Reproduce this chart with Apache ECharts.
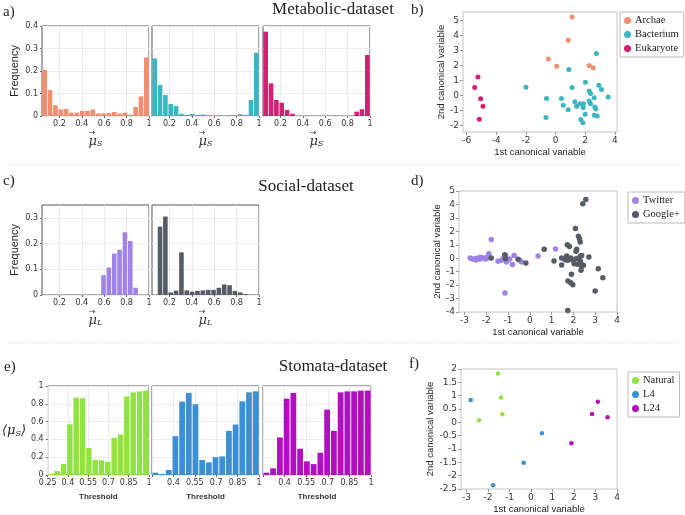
<!DOCTYPE html>
<html>
<head>
<meta charset="utf-8">
<script src="https://cdn.jsdelivr.net/npm/echarts@6/dist/echarts.min.js"></script>
<style>
  html, body { margin: 0; padding: 0; background: #fff; }
  #chart { width: 685px; height: 515px; }
</style>
</head>
<body>
<div id="chart"></div>
<script>
// ---- data ----
// histogram bins (hidden category axis, centres of the bins)
const muBins = ['0.069', '0.117', '0.164', '0.212', '0.260', '0.308', '0.355', '0.403', '0.451', '0.499',
  '0.546', '0.594', '0.642', '0.690', '0.737', '0.785', '0.833', '0.881', '0.928', '0.976']
const thresholdBins = ['0.273', '0.320', '0.367', '0.414', '0.461', '0.508', '0.555', '0.602',
  '0.648', '0.695', '0.742', '0.789', '0.836', '0.883', '0.930', '0.977']

// a) metabolic histograms
const archaeFreq = [0.205, 0.115, 0.048, 0.029, 0.031, 0.015, 0.015, 0.023, 0.023, 0.029,
  0.011, 0.012, 0.013, 0.018, 0.011, 0.015, 0.006, 0.04, 0.087, 0.26]
const bacteriumFreq = [0.256, 0.138, 0.093, 0.053, 0.044, 0.01, 0.003, 0.009, 0.004, 0.007,
  0.004, 0.002, 0.002, 0.001, 0.002, 0.004, 0.008, 0.005, 0.071, 0.281]
const eukaryoteFreq = [0.375, 0.145, 0.071, 0.059, 0.027, 0.01, 0, 0, 0, 0,
  0, 0, 0, 0, 0, 0, 0, 0.019, 0.03, 0.271]

// c) social histograms
const twitterFreq = [0, 0, 0, 0, 0, 0, 0, 0, 0, 0,
  0, 0.077, 0.107, 0.161, 0.176, 0.244, 0.21, 0.028, 0, 0]
const googleFreq = [0, 0.266, 0.305, 0.01, 0.017, 0.166, 0.018, 0.013, 0.016, 0.018,
  0.02, 0.02, 0.028, 0.041, 0.038, 0.016, 0.01, 0.004, 0, 0]

// e) stomata histograms
const naturalMu = [0.011, 0.045, 0.123, 0.571, 0.869, 0.862, 0.302, 0.168, 0.164, 0.149, 0.418, 0.455, 0.881, 0.929, 0.94, 0.948]
const l4Mu = [0.026, 0.011, 0.056, 0.437, 0.825, 0.922, 0.795, 0.168, 0.142, 0.2, 0.209, 0.496, 0.567, 0.828, 0.929, 0.94]
const l24Mu = [0.026, 0.075, 0.422, 0.858, 0.922, 0.295, 0.153, 0.123, 0.25, 0.735, 0.496, 0.929, 0.94, 0.94, 0.948, 0.948]

// b) metabolic canonical variables
const archaeX = [1.12, 0.85, -0.49, 0.07, 2.27, 2.54]
const archaeY = [5.22, 3.67, 2.42, 1.93, 1.98, 1.84]
const bacteriumX = [2.76, 0.9, -2.0, 2.02, 2.92, 1.12, 2.27, 2.36, 3.1, 3.55, -0.61, 0.4, 2.61, 1.3, 1.64,
  1.89, 2.27, 2.36, 0.52, 1.42, 1.87, 2.65, 2.72, 0.85, 2.0, 2.61, 2.81, -0.65, 1.71, 1.84]
const bacteriumY = [2.78, 1.71, 0.53, 0.87, 0.67, 0.51, 0.29, 0.11, 0.38, -0.11, -0.22, -0.22, -0.16, -0.44, -0.56,
  -0.56, -0.38, -0.56, -0.67, -0.73, -0.82, -0.78, -0.91, -0.96, -1.27, -1.33, -1.38, -1.49, -1.62, -1.84]
const eukaryoteX = [-5.24, -5.46, -5.06, -4.9, -5.15]
const eukaryoteY = [1.22, 0.51, -0.24, -0.73, -1.6]

// d) social canonical variables
const twitterX = [-1.77, -2.74, -2.62, -2.46, -2.31, -2.15, -2.03, -1.97, -1.88, -1.92, -2.28, -2.49, -1.46,
  -1.31, -1.2, -1.11, -0.98, -1.08, -0.92, -0.8, -0.72, -0.46, -0.38, -1.14, 0.38, 1.18]
const twitterY = [1.4, 0.02, -0.06, -0.01, -0.08, 0.02, -0.06, 0.07, 0.34, 0.02, 0.07, -0.13, -0.23,
  -0.16, 0.04, 0.21, -0.11, -0.28, -0.06, -0.46, 0.21, -0.16, -0.28, -2.59, 0.16, 0.69]
const googleX = [-1.77, -1.15, -1.11, -0.54, -0.18, 0.66, 1.11, 1.46, 1.46, 1.62, 1.72, 1.82, 1.69, 1.74, 1.88,
  1.97, 1.91, 1.75, 1.88, 1.97, 1.74, 2.09, 2.12, 2.15, 2.12, 2.18, 2.23, 2.28, 2.31, 2.31, 2.38, 2.34,
  2.38, 2.35, 2.46, 2.43, 2.57, 2.71, 3.0, 3.14, 3.35, 2.32, 2.03]
const googleY = [0.02, 0.26, -0.03, -0.08, -0.36, 0.66, -0.21, -0.5, 0.02, -0.11, 1.01, 0.88, 0.16, -0.16, 0.02,
  -0.16, -1.2, -1.69, -1.82, -1.97, -3.88, 2.22, 0.51, 0.66, -0.03, -0.45, 1.63, 1.45, 1.21, 0.14, 0.21, -0.41,
  -0.61, -0.9, -0.53, 4.06, 4.36, 0.09, -2.44, -0.79, -1.45, -0.2, -0.41]

// f) stomata canonical variables
const naturalX = [-1.53, -1.39, -1.33, -2.41]
const naturalY = [1.83, 0.93, 0.3, 0.08]
const l4X = [-2.8, 0.51, -0.34, -1.76]
const l4Y = [0.84, -0.41, -1.52, -2.36]
const l24X = [3.11, 2.84, 3.56, 1.88]
const l24Y = [0.77, 0.31, 0.19, -0.78]

// tick values
const muTicks = [0.2, 0.4, 0.6, 0.8, 1]
const thresholdTicks = [0.25, 0.4, 0.55, 0.7, 0.85, 1]
const thresholdTicksInner = [0.4, 0.55, 0.7, 0.85, 1]
const freqTicksA = [0, 0.1, 0.2, 0.3, 0.4]
const freqTicksC = [0, 0.1, 0.2, 0.3]
const muTicksE = [0, 0.2, 0.4, 0.6, 0.8, 1]

// colours
const colors = {
  Archae: '#f28d6f', Bacterium: '#3db4c2', Eukaryote: '#d81d72',
  Twitter: '#a083e4', 'Google+': '#565c66',
  Natural: '#8fe23f', L4: '#3b8fd4', L24: '#b30fc0'
}

// ---- layout helpers ----
const grids = []
const xAxes = []
const yAxes = []
const series = []

const tickFont = { fontSize: 8, color: '#333', fontFamily: 'DejaVu Sans' }
const axisNameFont = { fontSize: 9.5, color: '#222', fontFamily: '"Liberation Sans", sans-serif' }
// vector mu with subscript: arrow on its own line above the mu
const muName = (sub) => ({
  text: '{ar|→}\n{m|μ}{s|' + sub + '}',
  style: {
    rich: {
      ar: { fontSize: 8, fontFamily: 'DejaVu Sans', color: '#333', lineHeight: 5, padding: [0, 7, 0, 0] },
      m: { fontSize: 13, fontStyle: 'italic', fontFamily: 'DejaVu Serif', color: '#333', lineHeight: 12 },
      s: { fontSize: 8, fontStyle: 'italic', fontFamily: 'DejaVu Serif', color: '#333', lineHeight: 12, padding: [6, 0, 0, 0] }
    }
  }
})

function histPanel(box, bins, values, opt) {
  const g = grids.length
  grids.push({ left: box[0], top: box[1], width: box[2], height: box[3], show: true, borderColor: '#555', borderWidth: 1 })
  xAxes.push({
    gridIndex: g, type: 'value', min: opt.xMin, max: 1,
    axisLine: { show: false, onZero: false },
    axisTick: { show: true, length: 2, customValues: opt.xTicks, lineStyle: { color: '#666' } },
    axisLabel: Object.assign({ customValues: opt.xLabels, margin: 4 }, tickFont),
    splitLine: { show: true, lineStyle: { color: '#ececec' } },
    name: opt.xName ? opt.xName.text : '',
    nameLocation: 'middle', nameGap: opt.xNameGap,
    nameTextStyle: opt.xName ? opt.xName.style : {}
  })
  xAxes.push({ gridIndex: g, type: 'category', data: bins, show: false })
  const xi = xAxes.length - 1
  yAxes.push({
    gridIndex: g, type: 'value', min: 0, max: opt.yMax,
    axisLine: { show: false, onZero: false },
    axisTick: { show: !!opt.yLabels, length: 2, customValues: opt.yTicks, lineStyle: { color: '#666' } },
    axisLabel: Object.assign({ show: !!opt.yLabels, customValues: opt.yTicks, margin: 4 }, tickFont),
    splitLine: { show: true, lineStyle: { color: '#ececec' } },
    name: opt.yName ? opt.yName.text : '',
    nameLocation: 'middle', nameGap: opt.yNameGap, nameRotate: opt.yNameRotate,
    nameTextStyle: opt.yName ? opt.yName.style : {}
  })
  series.push({
    type: 'bar', name: opt.name, xAxisIndex: xi, yAxisIndex: yAxes.length - 1,
    data: values, barCategoryGap: '14%', itemStyle: { color: colors[opt.name] }
  })
}

function scatterPanel(box, opt, groups) {
  const g = grids.length
  grids.push({ left: box[0], top: box[1], width: box[2], height: box[3], show: true, borderColor: '#c4c4c4', borderWidth: 1 })
  const scatterTick = { fontSize: 9, color: '#333', fontFamily: 'DejaVu Sans', margin: 4 }
  xAxes.push({
    gridIndex: g, type: 'value', min: opt.xMin, max: opt.xMax,
    axisLine: { show: false, onZero: false },
    axisTick: { show: true, length: 3, customValues: opt.xTicks, lineStyle: { color: '#999' } },
    axisLabel: Object.assign({ customValues: opt.xTicks }, scatterTick),
    splitLine: { show: false },
    name: '1st canonical variable', nameLocation: 'middle', nameGap: 15, nameTextStyle: axisNameFont
  })
  yAxes.push({
    gridIndex: g, type: 'value', min: opt.yMin, max: opt.yMax,
    axisLine: { show: false, onZero: false },
    axisTick: { show: true, length: 3, customValues: opt.yTicks, lineStyle: { color: '#999' } },
    axisLabel: Object.assign({ customValues: opt.yTicks }, scatterTick),
    splitLine: { show: false },
    name: '2nd canonical variable', nameLocation: 'middle', nameGap: opt.yNameGap, nameTextStyle: axisNameFont
  })
  groups.forEach(gr => {
    series.push({
      type: 'scatter', name: gr.name, xAxisIndex: xAxes.length - 1, yAxisIndex: yAxes.length - 1,
      data: gr.x.map((v, i) => [v, gr.y[i]]),
      symbolSize: opt.size, itemStyle: { color: colors[gr.name], opacity: 1 }
    })
  })
}

// ---- a) ----
const freqName = { text: 'Frequency', style: { fontSize: 11, color: '#222', fontFamily: '"Liberation Sans", sans-serif' } }
histPanel([42, 26, 107, 90], muBins, archaeFreq, {
  name: 'Archae', xMin: 0.045, xTicks: muTicks, xLabels: muTicks, xName: muName('S'), xNameGap: 12,
  yMax: 0.4, yTicks: freqTicksA, yLabels: true, yName: freqName, yNameGap: 22
})
histPanel([152, 26, 107, 90], muBins, bacteriumFreq, {
  name: 'Bacterium', xMin: 0.045, xTicks: muTicks, xLabels: muTicks, xName: muName('S'), xNameGap: 12,
  yMax: 0.4, yTicks: freqTicksA
})
histPanel([263, 26, 107, 90], muBins, eukaryoteFreq, {
  name: 'Eukaryote', xMin: 0.045, xTicks: muTicks, xLabels: muTicks, xName: muName('S'), xNameGap: 12,
  yMax: 0.4, yTicks: freqTicksA
})

// ---- c) ----
histPanel([42, 205, 107, 90], muBins, twitterFreq, {
  name: 'Twitter', xMin: 0.045, xTicks: muTicks, xLabels: muTicks, xName: muName('L'), xNameGap: 12,
  yMax: 0.35, yTicks: freqTicksC, yLabels: true, yName: freqName, yNameGap: 22
})
histPanel([152, 205, 107, 90], muBins, googleFreq, {
  name: 'Google+', xMin: 0.045, xTicks: muTicks, xLabels: muTicks, xName: muName('L'), xNameGap: 12,
  yMax: 0.35, yTicks: freqTicksC
})

// ---- e) ----
const thrName = { text: 'Threshold', style: { fontSize: 8, fontWeight: 'bold', color: '#333', fontFamily: '"Liberation Sans", sans-serif' } }
const avgName = {
  text: '{a|⟨μ}{s|S}{a|⟩}',
  style: {
    rich: {
      a: { fontSize: 13, fontFamily: 'DejaVu Serif', fontStyle: 'italic', color: '#222' },
      s: { fontSize: 8, fontFamily: 'DejaVu Serif', fontStyle: 'italic', color: '#222', padding: [7, 0, 0, 0] }
    }
  }
}
histPanel([42, 386, 107, 89], thresholdBins, naturalMu, {
  name: 'Natural', xMin: 0.25, xTicks: thresholdTicks, xLabels: thresholdTicks, xName: thrName, xNameGap: 18,
  yMax: 1, yTicks: muTicksE, yLabels: true, yName: avgName, yNameGap: 21, yNameRotate: 0
})
histPanel([152, 386, 107, 89], thresholdBins, l4Mu, {
  name: 'L4', xMin: 0.25, xTicks: thresholdTicks, xLabels: thresholdTicksInner, xName: thrName, xNameGap: 18,
  yMax: 1, yTicks: muTicksE
})
histPanel([263, 386, 108, 89], thresholdBins, l24Mu, {
  name: 'L24', xMin: 0.25, xTicks: thresholdTicks, xLabels: thresholdTicksInner, xName: thrName, xNameGap: 18,
  yMax: 1, yTicks: muTicksE
})

// ---- b), d), f) ----
scatterPanel([463, 12, 154, 120], {
  xMin: -6.25, xMax: 4.15, xTicks: [-6, -4, -2, 0, 2, 4],
  yMin: -2.45, yMax: 5.55, yTicks: [-2, -1, 0, 1, 2, 3, 4, 5], yNameGap: 17, size: 5
}, [
  { name: 'Archae', x: archaeX, y: archaeY },
  { name: 'Bacterium', x: bacteriumX, y: bacteriumY },
  { name: 'Eukaryote', x: eukaryoteX, y: eukaryoteY }
])
scatterPanel([459, 191, 158, 121], {
  xMin: -3.25, xMax: 4, xTicks: [-3, -2, -1, 0, 1, 2, 3, 4],
  yMin: -4, yMax: 5, yTicks: [-4, -3, -2, -1, 0, 1, 2, 3, 4, 5], yNameGap: 14, size: 5.5
}, [
  { name: 'Twitter', x: twitterX, y: twitterY },
  { name: 'Google+', x: googleX, y: googleY }
])
scatterPanel([461, 369, 156, 123], {
  xMin: -3.25, xMax: 4, xTicks: [-3, -2, -1, 0, 1, 2, 3, 4],
  yMin: -2.5, yMax: 2, yTicks: [-2.5, -2, -1.5, -1, -0.5, 0, 0.5, 1, 1.5, 2], yNameGap: 21, size: 4.5
}, [
  { name: 'Natural', x: naturalX, y: naturalY },
  { name: 'L4', x: l4X, y: l4Y },
  { name: 'L24', x: l24X, y: l24Y }
])

// ---- legends, titles, panel letters ----
const legendBase = {
  orient: 'vertical', icon: 'circle', itemWidth: 7, itemHeight: 7, itemGap: 3,
  borderColor: '#bbb', borderWidth: 1, padding: [3, 5, 3, 4],
  textStyle: { fontSize: 10.5, color: '#222', fontFamily: '"Liberation Serif", serif', padding: [0, 0, 0, -1] },
  selectedMode: false
}
const legends = [
  Object.assign({ data: ['Archae', 'Bacterium', 'Eukaryote'], left: 620, top: 12 }, legendBase),
  Object.assign({ data: ['Twitter', 'Google+'], left: 628, top: 192 }, legendBase),
  Object.assign({ data: ['Natural', 'L4', 'L24'], left: 628, top: 372 }, legendBase)
]

const serif = '"Liberation Serif", serif'
const text = (x, y, s, size, align) => ({
  type: 'text', x: x, y: y, silent: true,
  style: { text: s, font: size + 'px ' + serif, fill: '#222', align: align || 'left', verticalAlign: 'middle' }
})
const dotted = (y) => ({
  type: 'line', silent: true, shape: { x1: 8, y1: y, x2: 680, y2: y },
  style: { stroke: '#c8c8c8', lineWidth: 1, lineDash: [1, 2] }
})

const option = {
  animation: false,
  grid: grids,
  xAxis: xAxes,
  yAxis: yAxes,
  legend: legends,
  series: series,
  graphic: [
    dotted(165), dotted(343),
    text(333, 10, 'Metabolic-dataset', 17, 'center'),
    text(306, 187, 'Social-dataset', 17, 'center'),
    text(333, 367, 'Stomata-dataset', 17, 'center'),
    text(3, 12, 'a)', 15), text(411, 10, 'b)', 15),
    text(3, 181, 'c)', 15), text(411, 181, 'd)', 15),
    text(4, 367, 'e)', 15), text(409, 364, 'f)', 15)
  ]
}

const chart = echarts.init(document.getElementById('chart'))
chart.setOption(option)
window.addEventListener('resize', () => chart.resize())
</script>
</body>
</html>
